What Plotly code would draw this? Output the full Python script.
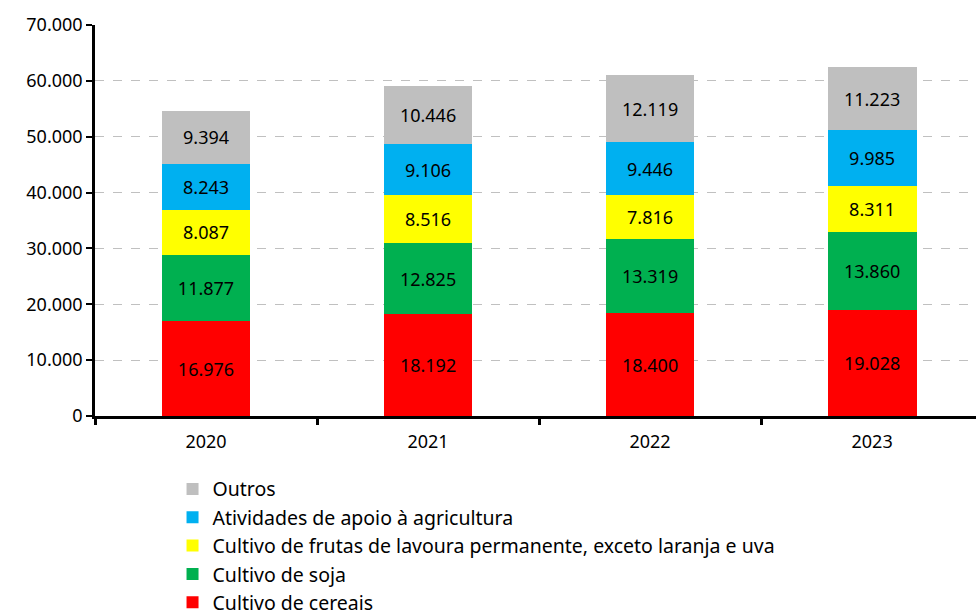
import plotly.graph_objects as go

years = ["2020", "2021", "2022", "2023"]
cereais = [16976, 18192, 18400, 19028]
soja = [11877, 12825, 13319, 13860]
frutas = [8087, 8516, 7816, 8311]
apoio = [8243, 9106, 9446, 9985]
outros = [9394, 10446, 12119, 11223]

series = [
    ("Cultivo de cereais", cereais, "#FF0000"),
    ("Cultivo de soja", soja, "#00B050"),
    ("Cultivo de frutas de lavoura permanente, exceto laranja e uva", frutas, "#FFFF00"),
    ("Atividades de apoio à agricultura", apoio, "#00B0F0"),
    ("Outros", outros, "#BFBFBF"),
]

fig = go.Figure()
for i, (name, vals, color) in enumerate(series):
    fig.add_trace(go.Bar(
        x=years, y=vals, name=name, legendrank=len(series) - i,
        marker=dict(color=color, line=dict(width=0)),
        width=0.4,
        texttemplate="%{y:,.0f}", textposition="inside", insidetextanchor="middle",
        textangle=0,
        textfont=dict(color="black", size=18, family="Noto Sans"),
        hoverinfo="skip",
    ))

fig.update_layout(
    barmode="stack",
    separators=",.",
    width=976, height=614,
    margin=dict(l=95, r=0, t=25, b=198),
    plot_bgcolor="white", paper_bgcolor="white",
    font=dict(family="Noto Sans", size=18, color="black"),
    showlegend=True,
    legend=dict(
        orientation="v", traceorder="normal",
        x=0.088, xanchor="left", yref="container", y=0.235, yanchor="top",
        font=dict(size=19.5, family="Noto Sans", color="black"),
        itemwidth=30,
        bgcolor="rgba(0,0,0,0)",
    ),
    uniformtext=dict(mode="show", minsize=10),
)

fig.update_xaxes(
    type="category", range=[-0.5, 3.468],
    showline=True, linecolor="black", linewidth=2.5,
    ticks="outside", tickson="boundaries", ticklen=6, tickwidth=2.5, tickcolor="black",
    tickfont=dict(size=18), showgrid=False, ticklabelstandoff=8,
)
fig.update_yaxes(
    range=[0, 70000], tick0=0, dtick=10000, tickformat=",.0f",
    showline=True, linecolor="black", linewidth=2.5,
    ticks="outside", ticklen=6, tickwidth=2, tickcolor="black",
    tickfont=dict(size=18),
    showgrid=True, gridcolor="#C0C0C0", griddash="dash", gridwidth=1,
    zeroline=False,
)

fig.write_html("out.html", config={"displayModeBar": False},
               post_script="document.body.style.margin='0px';document.body.style.padding='0px';")
